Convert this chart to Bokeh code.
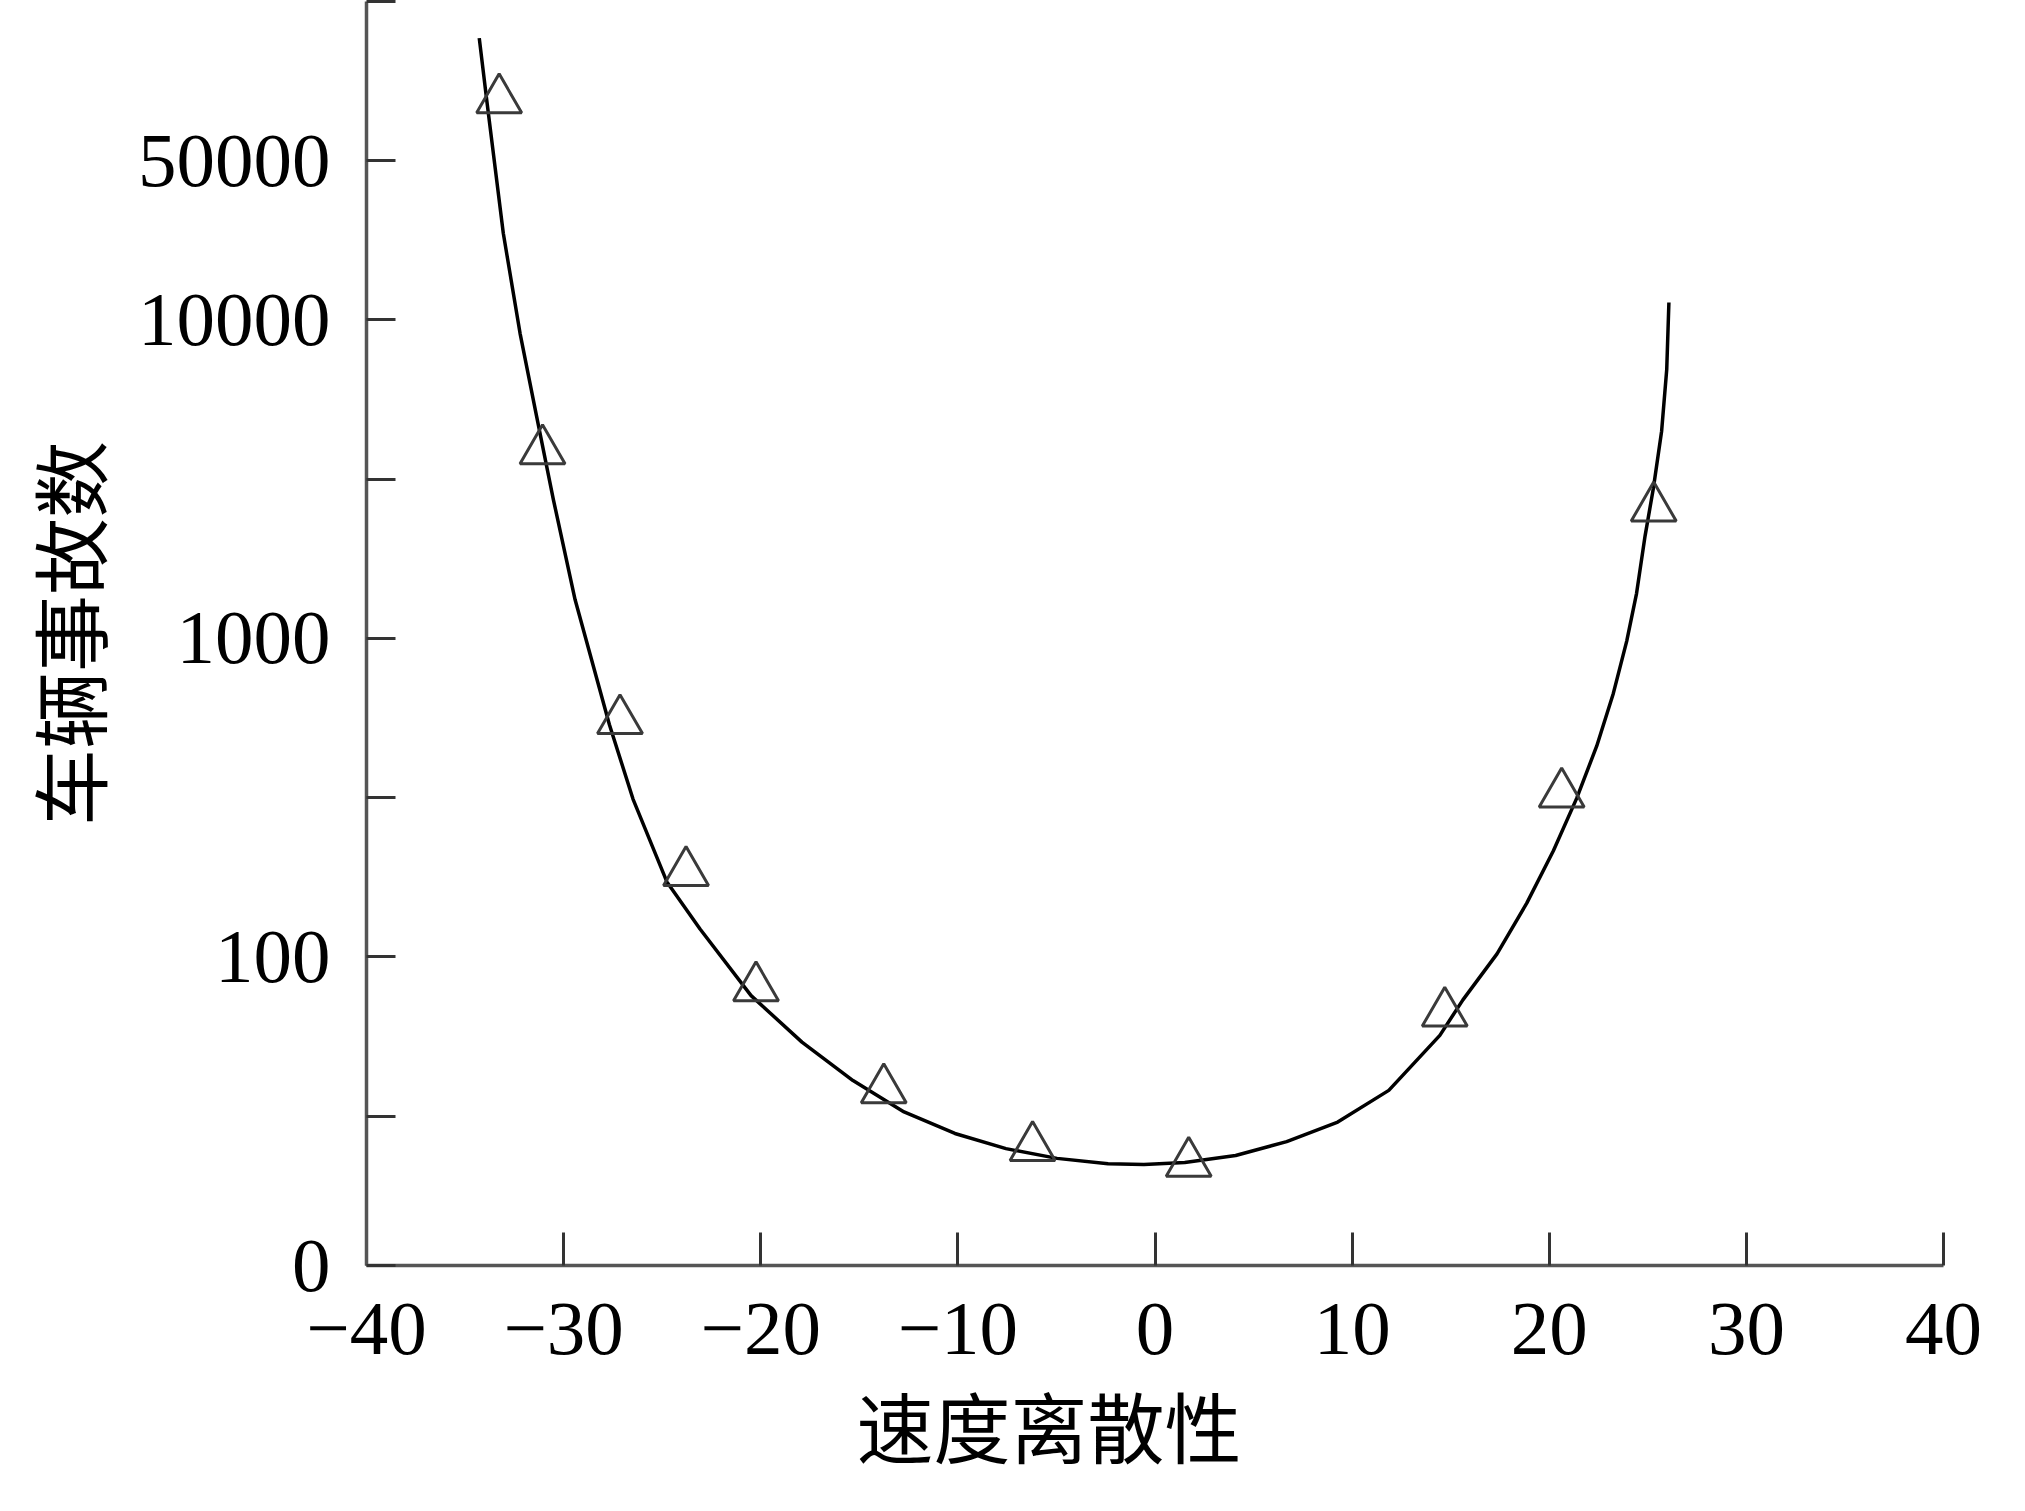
from bokeh.plotting import figure
from bokeh.models import Range1d, FixedTicker, CustomJSTickFormatter, Title
from bokeh.embed import file_html
from bokeh.resources import INLINE

# ---- data ----
# measured points (speed dispersion vs. vehicle accidents)
pt_x = [-33.27, -31.07, -27.14, -23.79, -20.24, -13.76, -6.21, 1.71, 14.70, 20.63, 25.30]
pt_y = [49120, 3882, 552, 184, 80.0, 38.3, 25.2, 22.5, 66.6, 324.6, 2567]

# fitted curve
fit_x = [-34.28, -33.90, -33.06, -32.21, -31.37, -30.52, -29.42, -27.68, -26.48, -24.76,
         -23.08, -20.49, -17.91, -15.32, -12.73, -10.15, -7.56, -4.97, -2.38, -0.56,
         1.51, 4.09, 6.68, 9.27, 11.86, 14.45, 15.62, 17.35, 18.86, 20.21,
         21.39, 22.41, 23.25, 23.93, 24.43, 24.86, 25.28, 25.70, 25.96, 26.07]
fit_y = [76740, 48980, 18710, 9080, 4980, 2730, 1325, 537, 313, 172,
         122.4, 75.6, 54.0, 40.9, 32.6, 27.9, 25.0, 23.3, 22.4, 22.3,
         22.6, 23.8, 26.3, 30.3, 38.1, 56.7, 73.3, 102.2, 147.5, 215.4,
         314.7, 459.6, 672, 981, 1386, 2096, 2957, 4473, 7000, 11346]

x_ticks = [-40, -30, -20, -10, 0, 10, 20, 30, 40]
y_tick_labels = ["0", "100", "1000", "10000", "50000"]
x_title = "速度离散性"
y_title = "车辆事故数"

# ---- axis geometry ----
y_lo = 10 ** 1.031
y_hi = 10 ** 5.0
y_major = [y_lo, 1e2, 1e3, 1e4, 10 ** 4.5]
y_minor = [10 ** 1.5, 10 ** 2.5, 10 ** 3.5, y_hi]

p = figure(width=2000, height=1490,
           x_range=Range1d(-40, 40), y_range=Range1d(y_lo, y_hi),
           y_axis_type="log", output_backend="svg", toolbar_location=None,
           min_border_left=366, min_border_right=57, min_border_top=1, min_border_bottom=223)
p.outline_line_color = None
p.xgrid.visible = False
p.ygrid.visible = False
p.background_fill_color = "white"
p.border_fill_color = "white"

p.line(fit_x, fit_y, line_color="black", line_width=3.5, line_join="round")
p.scatter(pt_x, pt_y, marker="triangle", size=45, fill_color=None,
          line_color="#3a3a3a", line_width=3)

serif = "Liberation Serif"
cjk = "Noto Sans CJK SC"

xa = p.xaxis[0]
xa.ticker = FixedTicker(ticks=x_ticks, minor_ticks=[])
xa.formatter = CustomJSTickFormatter(code="return tick < 0 ? '\u2212' + Math.abs(tick) : String(tick);")
xa.major_tick_in = 33
xa.major_tick_out = 0
xa.minor_tick_in = 0
xa.minor_tick_out = 0
xa.major_label_standoff = 38
xa.major_label_text_font = serif
xa.major_label_text_font_size = "77px"
xa.major_label_text_color = "black"

ya = p.yaxis[0]
ya.ticker = FixedTicker(ticks=y_major, minor_ticks=y_minor)
ya.formatter = CustomJSTickFormatter(
    args=dict(pos=y_major, labels=y_tick_labels),
    code="""
    for (let i = 0; i < pos.length; i++) {
        if (Math.abs(pos[i] - tick) <= 1e-6 * pos[i]) { return labels[i]; }
    }
    return "";
    """)
ya.major_tick_in = 29
ya.major_tick_out = 0
ya.minor_tick_in = 29
ya.minor_tick_out = 0
ya.major_label_standoff = 36
ya.major_label_text_font = serif
ya.major_label_text_font_size = "77px"
ya.major_label_text_color = "black"

for ax in (xa, ya):
    ax.axis_line_color = "#555555"
    ax.axis_line_width = 3.5
    ax.major_tick_line_color = "#333333"
    ax.major_tick_line_width = 3
    ax.minor_tick_line_color = "#333333"
    ax.minor_tick_line_width = 3

p.add_layout(Title(text=y_title, align="center", vertical_align="top", text_font=cjk,
                   text_font_size="77px", text_font_style="normal", text_color="black",
                   standoff=20), "left")
p.add_layout(Title(text=x_title, align="left", offset=490, text_font=cjk,
                   text_font_size="77px", text_font_style="normal", text_color="black",
                   standoff=21), "below")

open("out.html", "w").write(file_html(p, INLINE))
